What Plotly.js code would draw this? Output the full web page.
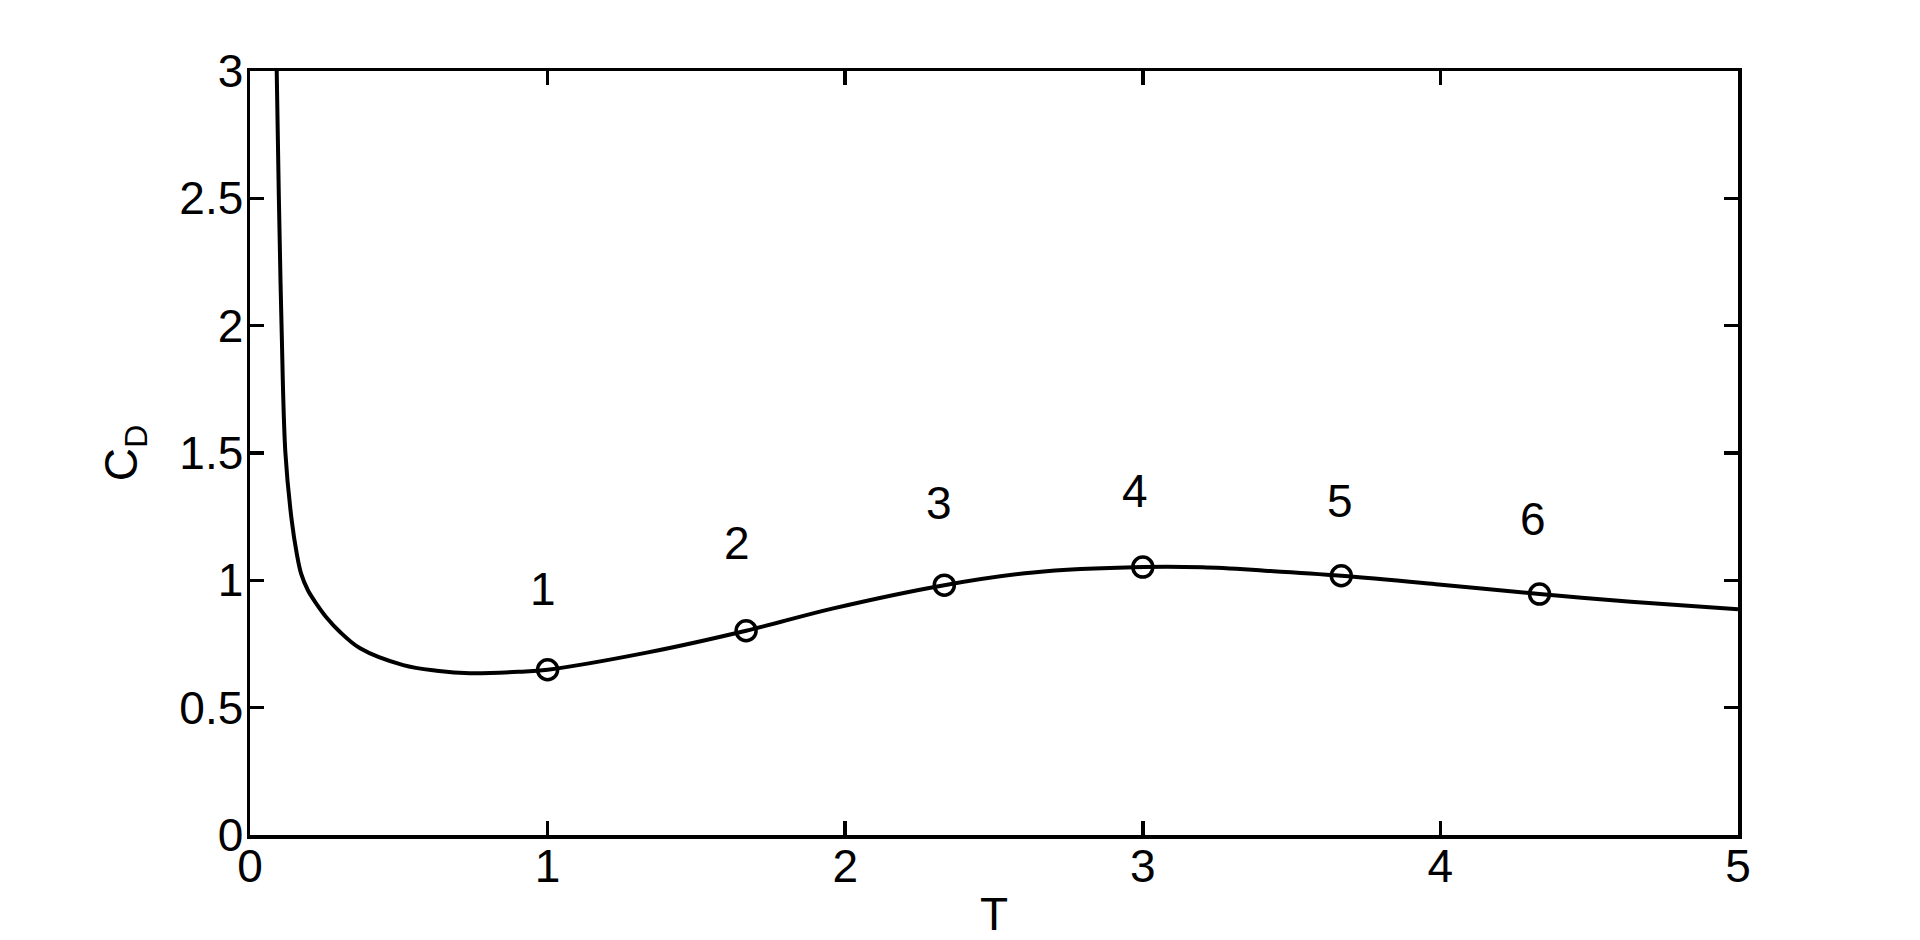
<!DOCTYPE html>
<html>
<head>
<meta charset="utf-8">
<script src="https://cdn.plot.ly/plotly-3.0.1.min.js"></script>
<style>
  html, body { margin: 0; padding: 0; background: #fff; }
  #plot { width: 1920px; height: 940px; }
</style>
</head>
<body>
<div id="plot"></div>
<script>
// kurva C_D terhadap T
const curveT  = [0.089, 0.097, 0.106, 0.119, 0.140, 0.157, 0.172, 0.195, 0.225, 0.260, 0.300, 0.370, 0.515, 0.627, 0.739, 0.907, 1.000, 1.333, 1.667, 1.960, 2.333, 2.632, 3.000, 3.200, 3.410, 3.667, 3.994, 4.333, 4.640, 5.000];
const curveCD = [3.050, 2.500, 2.000, 1.500, 1.237, 1.106, 1.025, 0.960, 0.905, 0.850, 0.800, 0.733, 0.667, 0.645, 0.635, 0.641, 0.649, 0.716, 0.802, 0.890, 0.981, 1.031, 1.052, 1.051, 1.038, 1.018, 0.984, 0.946, 0.916, 0.886];

// titik-titik bertanda
const pointT  = [1.000, 1.667, 2.333, 3.000, 3.667, 4.333];
const pointCD = [0.649, 0.802, 0.981, 1.052, 1.018, 0.946];

// label nomor titik
const labelText = ['1', '2', '3', '4', '5', '6'];
const labelT    = [0.985, 1.637, 2.316, 2.974, 3.663, 4.311];
const labelCD   = [0.972, 1.153, 1.312, 1.360, 1.319, 1.250];

const xTicks = [0, 1, 2, 3, 4, 5];
const yTicks = [0, 0.5, 1, 1.5, 2, 2.5, 3];

const fontFamily = 'Liberation Sans, Arial, Helvetica, sans-serif';
const bigFont = { family: fontFamily, size: 46, color: '#000' };

const data = [
  {
    x: curveT, y: curveCD,
    mode: 'lines', type: 'scatter',
    line: { color: '#000', width: 4, shape: 'spline', smoothing: 1 },
    hoverinfo: 'skip'
  },
  {
    x: pointT, y: pointCD,
    mode: 'markers', type: 'scatter',
    marker: { symbol: 'circle-open', size: 20, color: '#000', line: { color: '#000', width: 3.5 } }
  }
];

// label sebagai anotasi
const annotations = labelText.map((t, i) => ({
  x: labelT[i], y: labelCD[i], text: t,
  xref: 'x', yref: 'y', showarrow: false,
  xanchor: 'center', yanchor: 'middle', yshift: -2,
  font: bigFont
}));

const axisCommon = {
  showgrid: false, zeroline: false,
  showline: true, linecolor: '#000', linewidth: 3.5, mirror: 'ticks',
  ticks: 'inside', ticklen: 14, tickwidth: 3.5, tickcolor: '#000',
  tickfont: bigFont
};

const layout = {
  width: 1920, height: 940,
  paper_bgcolor: '#fff', plot_bgcolor: '#fff',
  showlegend: false,
  margin: { l: 250, r: 182, t: 71, b: 105 },
  annotations: annotations,
  xaxis: Object.assign({}, axisCommon, {
    range: [0, 5], tickvals: xTicks, ticktext: xTicks.map(String),
    ticklabelstandoff: -12,
    title: { text: 'T', font: bigFont, standoff: 14 }
  }),
  yaxis: Object.assign({}, axisCommon, {
    range: [0, 3], tickvals: yTicks, ticktext: yTicks.map(String),
    ticklabelstandoff: -6,
    title: { text: 'C<sub>D</sub>', font: bigFont, standoff: 28 }
  })
};

Plotly.newPlot('plot', data, layout, { staticPlot: true });
</script>
</body>
</html>
